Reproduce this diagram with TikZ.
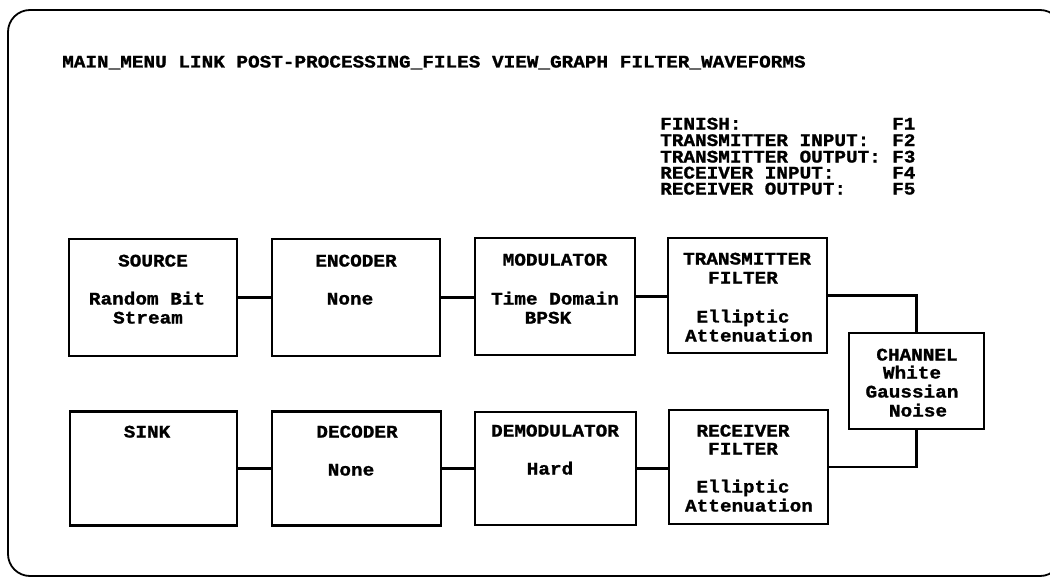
\documentclass[tikz,border=0pt]{standalone}
\usepackage{fontspec}
\newfontfamily\monob{Liberation Mono}[BoldFont={Liberation Mono Bold},BoldFeatures={FakeStretch=1.1,FakeBold=1.2}]
\begin{document}
\begin{tikzpicture}[x=1pt,y=-1pt,
  blk/.style={draw,line width=2.6pt,inner sep=0pt,minimum width=#1},
  txt/.style={font=\monob\bfseries\fontsize{17.6}{19}\selectfont,inner sep=0pt,text height=11pt,text depth=0pt},
  wire/.style={line width=2.6pt}]
\useasboundingbox (0,0) rectangle (1050,578);
\begin{scope}
\clip (0,0) rectangle (1050,578);
\draw[line width=1.8pt,rounded corners=22pt] (8,10) rectangle (1062,576);
\end{scope}
% menu
\node[txt,anchor=west] (menu) at (62,62) {MAIN\_MENU LINK POST-PROCESSING\_FILES VIEW\_GRAPH FILTER\_WAVEFORMS};
\node[txt,anchor=west] (k1) at (660,124) {FINISH:};
\node[txt,anchor=west] (k2) at (660,140.5) {TRANSMITTER INPUT:};
\node[txt,anchor=west] (k3) at (660,157) {TRANSMITTER OUTPUT:};
\node[txt,anchor=west] (k4) at (660,173) {RECEIVER INPUT:};
\node[txt,anchor=west] (k5) at (660,189) {RECEIVER OUTPUT:};
\node[txt,anchor=west] (f1) at (892,124) {F1};
\node[txt,anchor=west] (f2) at (892,140.5) {F2};
\node[txt,anchor=west] (f3) at (892,157) {F3};
\node[txt,anchor=west] (f4) at (892,173) {F4};
\node[txt,anchor=west] (f5) at (892,189) {F5};
% boxes
\node[blk=168pt,minimum height=117pt] (src) at (153,297.5) {};
\node[blk=168pt,minimum height=117pt] (enc) at (356,297.5) {};
\node[blk=160pt,minimum height=117pt] (mod) at (555,296.5) {};
\node[blk=159pt,minimum height=115pt] (txf) at (747.5,295.5) {};
\node[blk=135pt,minimum height=96pt] (ch) at (916.5,381) {};
\node[blk=167pt,minimum height=114pt] (sink) at (153.5,468.5) {};
\node[blk=169pt,minimum height=114pt] (dec) at (356.5,468.5) {};
\node[blk=161pt,minimum height=113pt] (dem) at (555.5,468.5) {};
\node[blk=159pt,minimum height=114pt] (rxf) at (748.5,467) {};
% texts
\node[txt] at (153,261) {SOURCE};
\node[txt] at (147,299) {Random Bit};
\node[txt] at (148,318) {Stream};
\node[txt] at (356,261) {ENCODER};
\node[txt] at (350,299) {None};
\node[txt] at (555,260) {MODULATOR};
\node[txt] at (555,299) {Time Domain};
\node[txt] at (548,318) {BPSK};
\node[txt] at (747,259) {TRANSMITTER};
\node[txt] at (743,278) {FILTER};
\node[txt] at (743,317) {Elliptic};
\node[txt] at (749,336) {Attenuation};
\node[txt] at (917,355) {CHANNEL};
\node[txt] at (912,373) {White};
\node[txt] at (912,392) {Gaussian};
\node[txt] at (918,411) {Noise};
\node[txt] at (147,432) {SINK};
\node[txt] at (357,432) {DECODER};
\node[txt] at (351,470) {None};
\node[txt] at (555,431) {DEMODULATOR};
\node[txt] at (550,469) {Hard};
\node[txt] at (743,431) {RECEIVER};
\node[txt] at (743,449) {FILTER};
\node[txt] at (743,487) {Elliptic};
\node[txt] at (749,506) {Attenuation};
% wires
\draw[wire] (src.east) -- (enc.west);
\draw[wire] (enc.east) -- (enc.east -| mod.west);
\draw[wire] (mod.east) -- (mod.east -| txf.west);
\draw[wire] (txf.east) -| (ch.north);
\draw[wire] (ch.south) |- (rxf.east);
\draw[wire] (dem.east) -- (dem.east -| rxf.west);
\draw[wire] (dec.east) -- (dem.west);
\draw[wire] (sink.east) -- (dec.west);
\end{tikzpicture}
\end{document}
